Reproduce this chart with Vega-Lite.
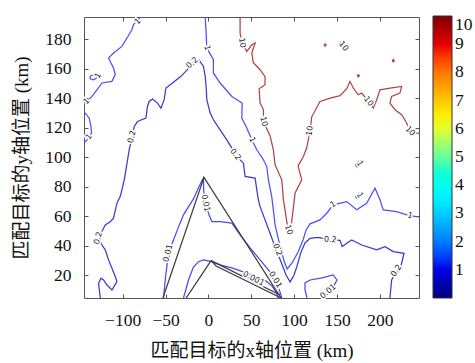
{
  "$schema": "https://vega.github.io/schema/vega-lite/v6.json",
  "autosize": {"type": "none"},
  "padding": {"left": 84, "top": 17, "right": 56, "bottom": 65},
  "width": 335,
  "height": 281,
  "background": "white",
  "config": {
    "view": {"stroke": "#555", "strokeWidth": 1},
    "axis": {"grid": false, "domain": false, "labelFont": "Liberation Serif", "labelFontSize": 17.5, "labelColor": "#111", "tickColor": "#555", "tickSize": -4, "labelPadding": 12, "titleFont": "Liberation Serif, Noto Sans CJK SC", "titleFontSize": 19, "titleFontWeight": "normal", "titleColor": "#111"},
    "legend": {"labelFont": "Liberation Serif", "labelFontSize": 17.5, "labelColor": "#111", "padding": 0}
  },
  "datasets": {
    "lines": [
      {"c":"A","l":"1","i":0,"x":-78.4,"y":195.3},{"c":"A","l":"1","i":1,"x":-87.4,"y":189.7},{"c":"A","l":"1","i":2,"x":-89.2,"y":186.3},{"c":"A","l":"1","i":3,"x":-95.0,"y":180.7},{"c":"A","l":"1","i":4,"x":-100.9,"y":175.0},{"c":"A","l":"1","i":5,"x":-110.7,"y":170.5},{"c":"A","l":"1","i":6,"x":-116.5,"y":167.1},{"c":"A","l":"1","i":7,"x":-114.5,"y":164.8},{"c":"A","l":"1","i":8,"x":-110.7,"y":160.3},{"c":"A","l":"1","i":9,"x":-108.7,"y":155.8},{"c":"A","l":"1","i":10,"x":-112.5,"y":151.3},{"c":"A","l":"1","i":11,"x":-124.2,"y":150.2},{"c":"A","l":"1","i":12,"x":-130.0,"y":145.6},{"c":"A","l":"1","i":13,"x":-135.8,"y":141.1},{"c":"A","l":"1","i":14,"x":-141.6,"y":137.7},{"c":"A","l":"1","i":15,"x":-146,"y":135.5},
      {"c":"A2","l":"1","i":0,"x":-137.8,"y":155.1},{"c":"A2","l":"1","i":1,"x":-132.0,"y":155.8},{"c":"A2","l":"1","i":2,"x":-129.6,"y":153.8},{"c":"A2","l":"1","i":3,"x":-134.3,"y":152.4},{"c":"A2","l":"1","i":4,"x":-137.8,"y":153.1},{"c":"A2","l":"1","i":5,"x":-137.8,"y":155.1},
      {"c":"B","l":"1","i":0,"x":-146,"y":130.5},{"c":"B","l":"1","i":1,"x":-143.6,"y":129.8},{"c":"B","l":"1","i":2,"x":-139.0,"y":126.4},{"c":"B","l":"1","i":3,"x":-137.0,"y":120.8},{"c":"B","l":"1","i":4,"x":-136.3,"y":116.3},{"c":"B","l":"1","i":5,"x":-139.0,"y":112.9},{"c":"B","l":"1","i":6,"x":-143.6,"y":110.6},{"c":"B","l":"1","i":7,"x":-146,"y":109.5},
      {"c":"C","l":"0.2","i":0,"x":-126.1,"y":4.6},{"c":"C","l":"0.2","i":1,"x":-128.1,"y":14.6},{"c":"C","l":"0.2","i":2,"x":-125.3,"y":18.0},{"c":"C","l":"0.2","i":3,"x":-122.3,"y":16.8},{"c":"C","l":"0.2","i":4,"x":-118.3,"y":13.4},{"c":"C","l":"0.2","i":5,"x":-112.5,"y":10.0},{"c":"C","l":"0.2","i":6,"x":-106.7,"y":15.7},{"c":"C","l":"0.2","i":7,"x":-108.7,"y":19.1},{"c":"C","l":"0.2","i":8,"x":-112.5,"y":24.7},{"c":"C","l":"0.2","i":9,"x":-116.5,"y":30.4},{"c":"C","l":"0.2","i":10,"x":-120.3,"y":37.2},{"c":"C","l":"0.2","i":11,"x":-124.2,"y":40.5},{"c":"C","l":"0.2","i":12,"x":-128.1,"y":45.1},{"c":"C","l":"0.2","i":13,"x":-124.2,"y":49.6},{"c":"C","l":"0.2","i":14,"x":-120.3,"y":54.1},{"c":"C","l":"0.2","i":15,"x":-114.5,"y":56.3},{"c":"C","l":"0.2","i":16,"x":-110.7,"y":58.6},{"c":"C","l":"0.2","i":17,"x":-106.7,"y":68.8},{"c":"C","l":"0.2","i":18,"x":-102.9,"y":73.3},{"c":"C","l":"0.2","i":19,"x":-100.9,"y":77.8},{"c":"C","l":"0.2","i":20,"x":-98.2,"y":84.6},{"c":"C","l":"0.2","i":21,"x":-96.2,"y":91.4},{"c":"C","l":"0.2","i":22,"x":-92.4,"y":105.0},{"c":"C","l":"0.2","i":23,"x":-88.9,"y":113.8},{"c":"C","l":"0.2","i":24,"x":-86.5,"y":120.8},{"c":"C","l":"0.2","i":25,"x":-82.7,"y":124.1},{"c":"C","l":"0.2","i":26,"x":-72.9,"y":126.4},{"c":"C","l":"0.2","i":27,"x":-71.1,"y":134.3},{"c":"C","l":"0.2","i":28,"x":-69.1,"y":137.7},{"c":"C","l":"0.2","i":29,"x":-65.2,"y":139.3},{"c":"C","l":"0.2","i":30,"x":-59.4,"y":136.6},{"c":"C","l":"0.2","i":31,"x":-55.4,"y":133.2},{"c":"C","l":"0.2","i":32,"x":-51.6,"y":138.9},{"c":"C","l":"0.2","i":33,"x":-49.6,"y":146.8},{"c":"C","l":"0.2","i":34,"x":-41.9,"y":150.2},{"c":"C","l":"0.2","i":35,"x":-32.1,"y":154.7},{"c":"C","l":"0.2","i":36,"x":-24.5,"y":159.2},{"c":"C","l":"0.2","i":37,"x":-18.6,"y":163.7},{"c":"C","l":"0.2","i":38,"x":-11.4,"y":166.0},{"c":"C","l":"0.2","i":39,"x":-5.8,"y":161.4},{"c":"C","l":"0.2","i":40,"x":-3.8,"y":154.7},{"c":"C","l":"0.2","i":41,"x":-2.7,"y":147.9},{"c":"C","l":"0.2","i":42,"x":-1.9,"y":138.9},{"c":"C","l":"0.2","i":43,"x":2.0,"y":129.8},{"c":"C","l":"0.2","i":44,"x":5.8,"y":125.3},{"c":"C","l":"0.2","i":45,"x":13.6,"y":118.5},{"c":"C","l":"0.2","i":46,"x":21.4,"y":111.7},{"c":"C","l":"0.2","i":47,"x":27.3,"y":106.1},{"c":"C","l":"0.2","i":48,"x":31.1,"y":101.6},{"c":"C","l":"0.2","i":49,"x":40.8,"y":95.9},{"c":"C","l":"0.2","i":50,"x":42.7,"y":86.9},{"c":"C","l":"0.2","i":51,"x":54.4,"y":85.8},{"c":"C","l":"0.2","i":52,"x":56.4,"y":77.8},{"c":"C","l":"0.2","i":53,"x":58.2,"y":71.1},{"c":"C","l":"0.2","i":54,"x":60.2,"y":66.5},{"c":"C","l":"0.2","i":55,"x":66.0,"y":57.5},{"c":"C","l":"0.2","i":56,"x":71.9,"y":48.5},{"c":"C","l":"0.2","i":57,"x":78.9,"y":37.2},{"c":"C","l":"0.2","i":58,"x":84.7,"y":29.0},{"c":"C","l":"0.2","i":59,"x":90.5,"y":20.2},{"c":"C","l":"0.2","i":60,"x":95.2,"y":15.5},{"c":"C","l":"0.2","i":61,"x":99.8,"y":20.2},{"c":"C","l":"0.2","i":62,"x":103.3,"y":26.3},{"c":"C","l":"0.2","i":63,"x":108.0,"y":35.8},{"c":"C","l":"0.2","i":64,"x":112.6,"y":41.9},{"c":"C","l":"0.2","i":65,"x":118.5,"y":45.0},{"c":"C","l":"0.2","i":66,"x":127.8,"y":45.6},{"c":"C","l":"0.2","i":67,"x":141.9,"y":43.9},{"c":"C","l":"0.2","i":68,"x":153.5,"y":43.6},{"c":"C","l":"0.2","i":69,"x":155.9,"y":39.4},{"c":"C","l":"0.2","i":70,"x":167.0,"y":43.9},{"c":"C","l":"0.2","i":71,"x":178.7,"y":40.5},{"c":"C","l":"0.2","i":72,"x":196.2,"y":37.2},{"c":"C","l":"0.2","i":73,"x":205.9,"y":39.4},{"c":"C","l":"0.2","i":74,"x":215.5,"y":36.0},{"c":"C","l":"0.2","i":75,"x":228.0,"y":34.9},{"c":"C","l":"0.2","i":76,"x":224.5,"y":26.3},{"c":"C","l":"0.2","i":77,"x":219.4,"y":22.9},{"c":"C","l":"0.2","i":78,"x":213.6,"y":16.8},{"c":"C","l":"0.2","i":79,"x":211.6,"y":4.6},
      {"c":"D","l":"1","i":0,"x":-3.8,"y":195.3},{"c":"D","l":"1","i":1,"x":-2.7,"y":184.1},{"c":"D","l":"1","i":2,"x":-1.9,"y":173.9},{"c":"D","l":"1","i":3,"x":5.8,"y":166.0},{"c":"D","l":"1","i":4,"x":5.8,"y":157.0},{"c":"D","l":"1","i":5,"x":13.6,"y":150.2},{"c":"D","l":"1","i":6,"x":27.3,"y":141.1},{"c":"D","l":"1","i":7,"x":39.3,"y":136.6},{"c":"D","l":"1","i":8,"x":38.9,"y":126.4},{"c":"D","l":"1","i":9,"x":44.7,"y":119.7},{"c":"D","l":"1","i":10,"x":50.6,"y":111.7},{"c":"D","l":"1","i":11,"x":56.4,"y":105.0},{"c":"D","l":"1","i":12,"x":64.1,"y":98.2},{"c":"D","l":"1","i":13,"x":68.0,"y":93.6},{"c":"D","l":"1","i":14,"x":69.9,"y":84.6},{"c":"D","l":"1","i":15,"x":73.8,"y":73.3},{"c":"D","l":"1","i":16,"x":75.7,"y":64.3},{"c":"D","l":"1","i":17,"x":77.7,"y":54.1},{"c":"D","l":"1","i":18,"x":81.2,"y":45.3},{"c":"D","l":"1","i":19,"x":84.7,"y":37.2},{"c":"D","l":"1","i":20,"x":88.2,"y":29.7},{"c":"D","l":"1","i":21,"x":91.7,"y":24.3},{"c":"D","l":"1","i":22,"x":97.5,"y":28.3},{"c":"D","l":"1","i":23,"x":104.5,"y":35.8},{"c":"D","l":"1","i":24,"x":110.3,"y":43.9},{"c":"D","l":"1","i":25,"x":113.8,"y":50.7},{"c":"D","l":"1","i":26,"x":118.5,"y":54.8},{"c":"D","l":"1","i":27,"x":130.1,"y":57.5},{"c":"D","l":"1","i":28,"x":137.9,"y":62.0},{"c":"D","l":"1","i":29,"x":145.6,"y":67.7},{"c":"D","l":"1","i":30,"x":161.2,"y":69.9},{"c":"D","l":"1","i":31,"x":172.9,"y":64.3},{"c":"D","l":"1","i":32,"x":184.5,"y":68.8},{"c":"D","l":"1","i":33,"x":194.2,"y":79.0},{"c":"D","l":"1","i":34,"x":200.0,"y":71.1},{"c":"D","l":"1","i":35,"x":203.8,"y":64.3},{"c":"D","l":"1","i":36,"x":219.4,"y":63.1},{"c":"D","l":"1","i":37,"x":234.9,"y":60.2},{"c":"D","l":"1","i":38,"x":246,"y":59.5},
      {"c":"E","l":"10","i":0,"x":36.9,"y":195.3},{"c":"E","l":"10","i":1,"x":36.9,"y":184.1},{"c":"E","l":"10","i":2,"x":38.9,"y":177.3},{"c":"E","l":"10","i":3,"x":44.7,"y":171.6},{"c":"E","l":"10","i":4,"x":50.6,"y":176.1},{"c":"E","l":"10","i":5,"x":54.4,"y":177.3},{"c":"E","l":"10","i":6,"x":50.6,"y":170.5},{"c":"E","l":"10","i":7,"x":52.4,"y":163.9},{"c":"E","l":"10","i":8,"x":60.2,"y":159.2},{"c":"E","l":"10","i":9,"x":66.0,"y":154.5},{"c":"E","l":"10","i":10,"x":66.0,"y":149.0},{"c":"E","l":"10","i":11,"x":59.1,"y":146.3},{"c":"E","l":"10","i":12,"x":60.2,"y":136.8},{"c":"E","l":"10","i":13,"x":64.1,"y":132.2},{"c":"E","l":"10","i":14,"x":64.1,"y":124.1},{"c":"E","l":"10","i":15,"x":71.9,"y":114.4},{"c":"E","l":"10","i":16,"x":75.7,"y":105.0},{"c":"E","l":"10","i":17,"x":77.7,"y":94.8},{"c":"E","l":"10","i":18,"x":85.5,"y":84.6},{"c":"E","l":"10","i":19,"x":87.4,"y":71.1},{"c":"E","l":"10","i":20,"x":89.3,"y":64.3},{"c":"E","l":"10","i":21,"x":91.3,"y":56.3},{"c":"E","l":"10","i":22,"x":93.2,"y":50.7},{"c":"E","l":"10","i":23,"x":97.1,"y":56.3},{"c":"E","l":"10","i":24,"x":99.0,"y":65.6},{"c":"E","l":"10","i":25,"x":101.0,"y":75.8},{"c":"E","l":"10","i":26,"x":108.8,"y":84.6},{"c":"E","l":"10","i":27,"x":104.5,"y":94.1},{"c":"E","l":"10","i":28,"x":110.7,"y":100.4},{"c":"E","l":"10","i":29,"x":114.6,"y":106.3},{"c":"E","l":"10","i":30,"x":118.5,"y":117.8},{"c":"E","l":"10","i":31,"x":120.4,"y":127.3},{"c":"E","l":"10","i":32,"x":130.1,"y":137.7},{"c":"E","l":"10","i":33,"x":141.9,"y":140.0},{"c":"E","l":"10","i":34,"x":153.5,"y":141.6},{"c":"E","l":"10","i":35,"x":161.2,"y":146.3},{"c":"E","l":"10","i":36,"x":165.0,"y":151.3},{"c":"E","l":"10","i":37,"x":168.9,"y":146.8},{"c":"E","l":"10","i":38,"x":174.7,"y":142.2},{"c":"E","l":"10","i":39,"x":178.7,"y":143.4},{"c":"E","l":"10","i":40,"x":186.4,"y":137.7},{"c":"E","l":"10","i":41,"x":192.2,"y":133.2},{"c":"E","l":"10","i":42,"x":196.2,"y":138.9},{"c":"E","l":"10","i":43,"x":200.0,"y":145.6},{"c":"E","l":"10","i":44,"x":211.6,"y":146.8},{"c":"E","l":"10","i":45,"x":225.3,"y":147.9},{"c":"E","l":"10","i":46,"x":223.3,"y":143.4},{"c":"E","l":"10","i":47,"x":213.6,"y":141.1},{"c":"E","l":"10","i":48,"x":211.6,"y":136.6},{"c":"E","l":"10","i":49,"x":217.5,"y":132.1},{"c":"E","l":"10","i":50,"x":225.3,"y":128.7},{"c":"E","l":"10","i":51,"x":231.1,"y":123.1},{"c":"E","l":"10","i":52,"x":234.9,"y":117.4},{"c":"E","l":"10","i":53,"x":242.7,"y":116.3},{"c":"E","l":"10","i":54,"x":246,"y":116.3},
      {"c":"R1","l":"10","i":0,"x":134.6,"y":175.9},{"c":"R1","l":"10","i":1,"x":135.9,"y":176.7},{"c":"R1","l":"10","i":2,"x":137.2,"y":175.9},{"c":"R1","l":"10","i":3,"x":135.9,"y":175.1},{"c":"R1","l":"10","i":4,"x":134.6,"y":175.9},
      {"c":"R2","l":"10","i":0,"x":153.4,"y":178.2},{"c":"R2","l":"10","i":1,"x":155.8,"y":175.6},
      {"c":"R3","l":"10","i":0,"x":214.2,"y":165.3},{"c":"R3","l":"10","i":1,"x":215.5,"y":166.1},{"c":"R3","l":"10","i":2,"x":216.8,"y":165.3},{"c":"R3","l":"10","i":3,"x":215.5,"y":164.5},{"c":"R3","l":"10","i":4,"x":214.2,"y":165.3},
      {"c":"R4","l":"10","i":0,"x":173.4,"y":155.1},{"c":"R4","l":"10","i":1,"x":174.7,"y":155.9},{"c":"R4","l":"10","i":2,"x":176.0,"y":155.1},{"c":"R4","l":"10","i":3,"x":174.7,"y":154.3},{"c":"R4","l":"10","i":4,"x":173.4,"y":155.1},
      {"c":"L1","l":"1","i":0,"x":172.0,"y":95.5},{"c":"L1","l":"1","i":1,"x":175.0,"y":97.0},{"c":"L1","l":"1","i":2,"x":177.0,"y":95.0},{"c":"L1","l":"1","i":3,"x":175.0,"y":93.0},{"c":"L1","l":"1","i":4,"x":172.0,"y":94.0},{"c":"L1","l":"1","i":5,"x":172.0,"y":95.5},
      {"c":"L2","l":"1","i":0,"x":172.0,"y":74.0},{"c":"L2","l":"1","i":1,"x":175.0,"y":75.5},{"c":"L2","l":"1","i":2,"x":177.0,"y":73.5},{"c":"L2","l":"1","i":3,"x":175.0,"y":72.0},{"c":"L2","l":"1","i":4,"x":172.0,"y":72.5},{"c":"L2","l":"1","i":5,"x":172.0,"y":74.0},
      {"c":"G","l":"0.01","i":0,"x":-52.4,"y":4.6},{"c":"G","l":"0.01","i":1,"x":-50.4,"y":16.8},{"c":"G","l":"0.01","i":2,"x":-48.5,"y":25.8},{"c":"G","l":"0.01","i":3,"x":-46.6,"y":34.9},{"c":"G","l":"0.01","i":4,"x":-40.8,"y":43.9},{"c":"G","l":"0.01","i":5,"x":-35.3,"y":52.1},{"c":"G","l":"0.01","i":6,"x":-29.1,"y":60.9},{"c":"G","l":"0.01","i":7,"x":-23.3,"y":66.3},{"c":"G","l":"0.01","i":8,"x":-17.5,"y":71.7},{"c":"G","l":"0.01","i":9,"x":-11.6,"y":79.2},{"c":"G","l":"0.01","i":10,"x":-7.7,"y":83.9},{"c":"G","l":"0.01","i":11,"x":-5.8,"y":85.8},{"c":"G","l":"0.01","i":12,"x":-5.6,"y":77.8},{"c":"G","l":"0.01","i":13,"x":-3.8,"y":68.8},{"c":"G","l":"0.01","i":14,"x":0.0,"y":62.0},{"c":"G","l":"0.01","i":15,"x":4.0,"y":56.3},{"c":"G","l":"0.01","i":16,"x":13.6,"y":56.3},{"c":"G","l":"0.01","i":17,"x":27.3,"y":55.3},{"c":"G","l":"0.01","i":18,"x":36.9,"y":47.3},{"c":"G","l":"0.01","i":19,"x":48.6,"y":38.5},{"c":"G","l":"0.01","i":20,"x":60.2,"y":30.4},{"c":"G","l":"0.01","i":21,"x":69.9,"y":23.6},{"c":"G","l":"0.01","i":22,"x":77.7,"y":17.1},{"c":"G","l":"0.01","i":23,"x":81.5,"y":12.3},{"c":"G","l":"0.01","i":24,"x":85.5,"y":4.6},
      {"c":"H","l":"0.01","i":0,"x":-29.1,"y":4.6},{"c":"H","l":"0.01","i":1,"x":-23.3,"y":16.8},{"c":"H","l":"0.01","i":2,"x":-17.5,"y":25.6},{"c":"H","l":"0.01","i":3,"x":-11.6,"y":29.2},{"c":"H","l":"0.01","i":4,"x":-5.8,"y":30.4},{"c":"H","l":"0.01","i":5,"x":4.0,"y":29.2},{"c":"H","l":"0.01","i":6,"x":13.6,"y":27.0},{"c":"H","l":"0.01","i":7,"x":29.1,"y":24.7},{"c":"H","l":"0.01","i":8,"x":44.7,"y":21.4},{"c":"H","l":"0.01","i":9,"x":57.9,"y":18.8},{"c":"H","l":"0.01","i":10,"x":67.2,"y":16.1},{"c":"H","l":"0.01","i":11,"x":74.2,"y":12.7},{"c":"H","l":"0.01","i":12,"x":79.7,"y":7.8},{"c":"H","l":"0.01","i":13,"x":81.2,"y":4.6},
      {"c":"I","l":"0.01","i":0,"x":115.0,"y":4.6},{"c":"I","l":"0.01","i":1,"x":112.6,"y":10.0},{"c":"I","l":"0.01","i":2,"x":112.6,"y":14.8},{"c":"I","l":"0.01","i":3,"x":118.5,"y":16.8},{"c":"I","l":"0.01","i":4,"x":132.4,"y":18.2},{"c":"I","l":"0.01","i":5,"x":145.3,"y":20.2},{"c":"I","l":"0.01","i":6,"x":149.9,"y":16.8},{"c":"I","l":"0.01","i":7,"x":145.3,"y":12.1},{"c":"I","l":"0.01","i":8,"x":139.8,"y":8.9},{"c":"I","l":"0.01","i":9,"x":134.8,"y":4.6},
      {"c":"K1","l":"0.001","i":0,"x":-53.1,"y":4.6},{"c":"K1","l":"0.001","i":1,"x":-5.2,"y":86.3},{"c":"K1","l":"0.001","i":2,"x":84.7,"y":4.6},
      {"c":"K2","l":"0.001","i":0,"x":-26.0,"y":4.6},{"c":"K2","l":"0.001","i":1,"x":3.1,"y":29.9},{"c":"K2","l":"0.001","i":2,"x":83.5,"y":6.6},
      {"c":"K3","l":"0.001","i":0,"x":3.1,"y":29.9},{"c":"K3","l":"0.001","i":1,"x":8.9,"y":26.3},{"c":"K3","l":"0.001","i":2,"x":84.7,"y":4.6}
    ],
    "labels": [
      {"t":"1","x":-81.9,"y":191.7,"a":-46},{"t":"1","x":-128.3,"y":155.0,"a":-60},{"t":"1","x":-141.6,"y":137.7,"a":-45},{"t":"1","x":-139.0,"y":113.7,"a":-53},
      {"t":"0.2","x":-88.9,"y":113.8,"a":-78},{"t":"0.2","x":-128.1,"y":45.1,"a":-75},{"t":"0.2","x":-18.6,"y":163.7,"a":-42},{"t":"0.2","x":31.1,"y":101.6,"a":52},{"t":"0.2","x":80.1,"y":37.2,"a":69},{"t":"0.2","x":141.9,"y":43.9,"a":5},{"t":"0.2","x":219.4,"y":22.9,"a":-56},
      {"t":"1","x":-1.9,"y":173.9,"a":75},{"t":"1","x":50.6,"y":111.7,"a":65},{"t":"1","x":145.6,"y":67.7,"a":-30},{"t":"1","x":234.9,"y":60.2,"a":15},
      {"t":"10","x":38.9,"y":177.3,"a":80},{"t":"10","x":64.1,"y":124.1,"a":75},{"t":"10","x":93.2,"y":50.7,"a":70},{"t":"10","x":118.5,"y":117.8,"a":-80},{"t":"10","x":186.4,"y":137.7,"a":52},{"t":"10","x":234.9,"y":117.4,"a":45},{"t":"10","x":157.2,"y":175.0,"a":50},
      {"t":"0.01","x":-46.6,"y":34.9,"a":-76},{"t":"0.01","x":-3.8,"y":68.8,"a":78},{"t":"0.01","x":77.7,"y":16.9,"a":59},{"t":"0.001","x":52.4,"y":17.5,"a":27},{"t":"0.01","x":139.8,"y":8.9,"a":-40},
      {"t":"1","x":176.0,"y":95.5,"a":60},{"t":"1","x":176.0,"y":74.0,"a":60}
    ],
    "bar": [{"v":0},{"v":10}]
  },
  "layer": [
    {
      "data": {"name": "lines"},
      "mark": {"type": "line", "strokeWidth": 1.25, "clip": true},
      "encoding": {
        "x": {"field": "x", "type": "quantitative", "scale": {"domain": [-145.1, 245.5], "nice": false, "zero": false},
              "axis": {"orient": "bottom", "values": [-100,-50,0,50,100,150,200], "labelPadding": 17, "title": "匹配目标的x轴位置 (km)", "titlePadding": 13}},
        "y": {"field": "y", "type": "quantitative", "scale": {"domain": [4.6, 194.9], "nice": false, "zero": false},
              "axis": {"orient": "left", "values": [20,40,60,80,100,120,140,160,180], "labelPadding": 17, "title": "匹配目标的y轴位置 (km)", "titlePadding": 13}},
        "detail": {"field": "c"},
        "order": {"field": "i", "type": "quantitative"},
        "stroke": {"field": "l", "type": "nominal", "legend": null,
                   "scale": {"domain": ["0.001","0.01","0.2","1","10"], "range": ["#3c3c3c","#4a4af2","#3a3ad2","#4f4fff","#b04545"]}}
      }
    },
    {
      "data": {"name": "labels"},
      "mark": {"type": "text", "font": "DejaVu Sans", "fontSize": 8, "fill": "white", "stroke": "white", "strokeWidth": 3},
      "encoding": {
        "x": {"field": "x", "type": "quantitative", "axis": {"orient": "top", "values": [-100,-50,0,50,100,150,200], "labels": false, "title": null}},
        "y": {"field": "y", "type": "quantitative", "axis": {"orient": "right", "values": [20,40,60,80,100,120,140,160,180], "labels": false, "title": null}},
        "text": {"field": "t"},
        "angle": {"field": "a", "type": "quantitative", "scale": null}
      }
    },
    {
      "data": {"name": "labels"},
      "mark": {"type": "text", "font": "DejaVu Sans", "fontSize": 8, "fill": "#222"},
      "encoding": {
        "x": {"field": "x", "type": "quantitative", "axis": null},
        "y": {"field": "y", "type": "quantitative", "axis": null},
        "text": {"field": "t"},
        "angle": {"field": "a", "type": "quantitative", "scale": null}
      }
    },
    {
      "data": {"name": "bar"},
      "mark": {"type": "point", "size": 0, "opacity": 0},
      "encoding": {
        "color": {"field": "v", "type": "quantitative",
                  "scale": {"domain": [0, 1.25, 3.75, 6.25, 8.75, 10], "range": ["#00007f","#0000ff","#00ffff","#ffff00","#ff0000","#7f0000"]},
                  "legend": {"orient": "none", "legendX": 349, "legendY": -1, "direction": "vertical", "title": null, "gradientLength": 282, "gradientThickness": 19, "gradientStrokeColor": "#333", "gradientStrokeWidth": 1, "values": [1,2,3,4,5,6,7,8,9,10], "labelOffset": 3}}
      }
    }
  ],
  "resolve": {"axis": {"x": "independent", "y": "independent"}}
}
